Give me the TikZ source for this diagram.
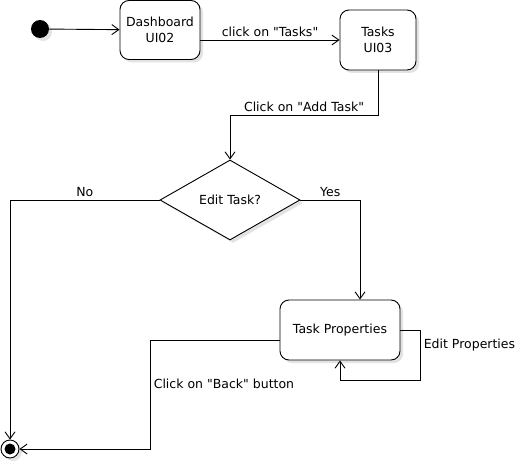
\documentclass[tikz,border=0pt]{standalone}
\usepackage{fontspec}
\setmainfont{DejaVu Sans}
\usepackage{tikz}
\usetikzlibrary{arrows.meta,shapes.geometric,shadows}
\tikzstyle{shade} = [drop shadow={shadow xshift=3pt, shadow yshift=-3pt, fill=black!22}]
\tikzstyle{screen} = [rectangle, rounded corners=9pt, draw, fill=white, align=center, inner sep=2pt, shade]
\tikzstyle{choice} = [diamond, draw, fill=white, aspect=1.75, inner sep=0pt, minimum width=140pt, minimum height=80pt, shade]
\tikzstyle{start} = [circle, fill=black, minimum size=18pt, inner sep=0pt, shade]
\tikzstyle{stop} = [circle, draw, fill=white, minimum size=18pt, inner sep=0pt, shade,
  path picture={\fill[black] (path picture bounding box.center) circle (5.5pt);}]
\newcommand{\qt}{\textquotedbl}

\begin{document}
\begin{tikzpicture}[->,>={Straight Barb[length=7pt,width=10pt]},x=1pt,y=-1pt,line width=0.9pt,
  font=\fontsize{12.5pt}{15.5pt}\selectfont]
  \useasboundingbox (0,0) rectangle (521,465);
  \node[start] (init) at (40,29) {};
  \node[screen, minimum width=80pt, minimum height=59pt] (dash) at (160,30) {Dashboard\\UI02};
  \node[screen, minimum width=76pt, minimum height=60pt] (tasks) at (378,40) {Tasks\\UI03};
  \node[choice] (edit) at (230,200) {Edit Task?};
  \node[screen, minimum width=120pt, minimum height=60pt] (props) at (340,330) {Task Properties};
  \node[stop] (end) at (10,449) {};
  \coordinate (loop) at (420,380);
  \coordinate (back) at (150,449);

  \draw (init) -- (dash);
  \draw (dash.east |- tasks.west) -- node[above] {click on \qt Tasks\qt} (tasks.west);
  \draw (tasks.south) -- ++(0,45) -| node[above, pos=0.25] {Click on \qt Add Task\qt} (edit.north);
  \draw (edit.west) -| node[above, pos=0.25] {No} (end.north);
  \draw (edit.east) -| node[above, pos=0.25] {Yes} ([xshift=20pt]props.north);
  \draw (props.east) -| node[right, pos=0.65] {Edit Properties} (loop) -| (props.south);
  \draw ([yshift=-10pt]props.west) -| node[right, pos=0.7] {Click on \qt Back\qt{} button} (back) -- (end.east);
\end{tikzpicture}
\end{document}
